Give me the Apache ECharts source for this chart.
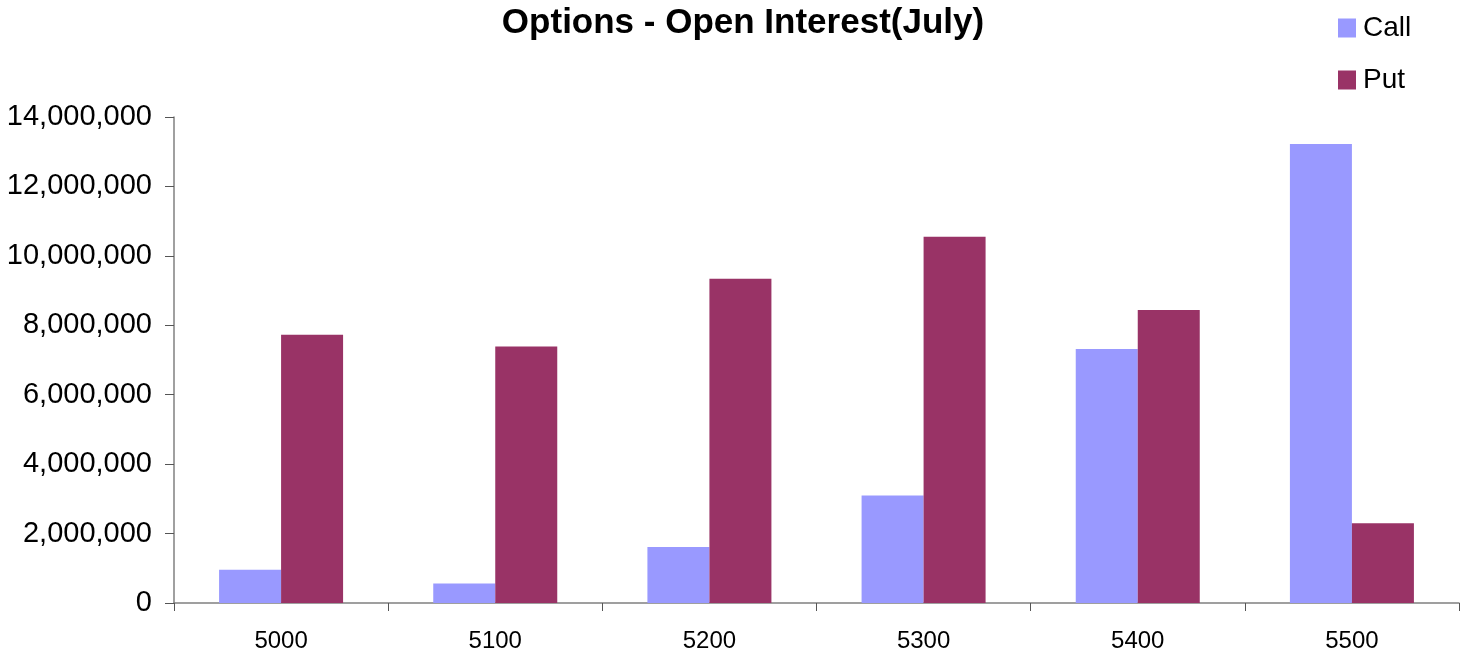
<!DOCTYPE html>
<html><head><meta charset="utf-8">
<script src="https://cdn.jsdelivr.net/npm/echarts@6/dist/echarts.min.js"></script>
<style>html,body{margin:0;padding:0;background:#fff}#c{width:1463px;height:655px}</style>
</head><body><div id="c"></div>
<script>
const categories = ['5000','5100','5200','5300','5400','5500'];
const callValues = [960000, 560000, 1610000, 3100000, 7320000, 13220000];
const putValues = [7730000, 7390000, 9340000, 10550000, 8440000, 2300000];
const yTicks = {min: 0, max: 14000000, interval: 2000000};

const chart = echarts.init(document.getElementById('c'));
const font = 'Liberation Sans, Arial, sans-serif';
chart.setOption({
  animation: false,
  title: {text: 'Options - Open Interest(July)', left: 738, top: 1, textAlign: 'center',
    textStyle: {fontFamily: font, fontSize: 35, fontWeight: 'bold', color: '#000'}},
  legend: {orient: 'vertical', left: 1333, top: 9, itemWidth: 18, itemHeight: 19, itemGap: 24,
    icon: 'rect', data: ['Call','Put'],
    textStyle: {fontFamily: font, fontSize: 28, color: '#000', padding: [0,0,0,2]}},
  grid: {left: 174, right: 4, top: 117, bottom: 52, containLabel: false},
  xAxis: {type: 'category', data: categories,
    axisLine: {lineStyle: {color: '#808080', width: 1.5}},
    axisTick: {show: true, alignWithLabel: false, length: 8, lineStyle: {color: '#555'}},
    axisLabel: {fontFamily: font, fontSize: 24, color: '#000', margin: 26}},
  yAxis: {type: 'value', min: yTicks.min, max: yTicks.max, interval: yTicks.interval,
    splitLine: {show: false},
    axisLine: {show: true, lineStyle: {color: '#808080', width: 1.5}},
    axisTick: {show: true, inside: false, length: 9, lineStyle: {color: '#555'}},
    axisLabel: {fontFamily: font, fontSize: 29, color: '#000', margin: 22,
      formatter: v => v.toLocaleString('en-US')}},
  series: [
    {name: 'Call', type: 'bar', data: callValues, barWidth: 62, barGap: '0%', itemStyle: {color: '#9999FF'}},
    {name: 'Put', type: 'bar', data: putValues, barWidth: 62, barGap: '0%', itemStyle: {color: '#993366'}}
  ]
});
</script></body></html>
